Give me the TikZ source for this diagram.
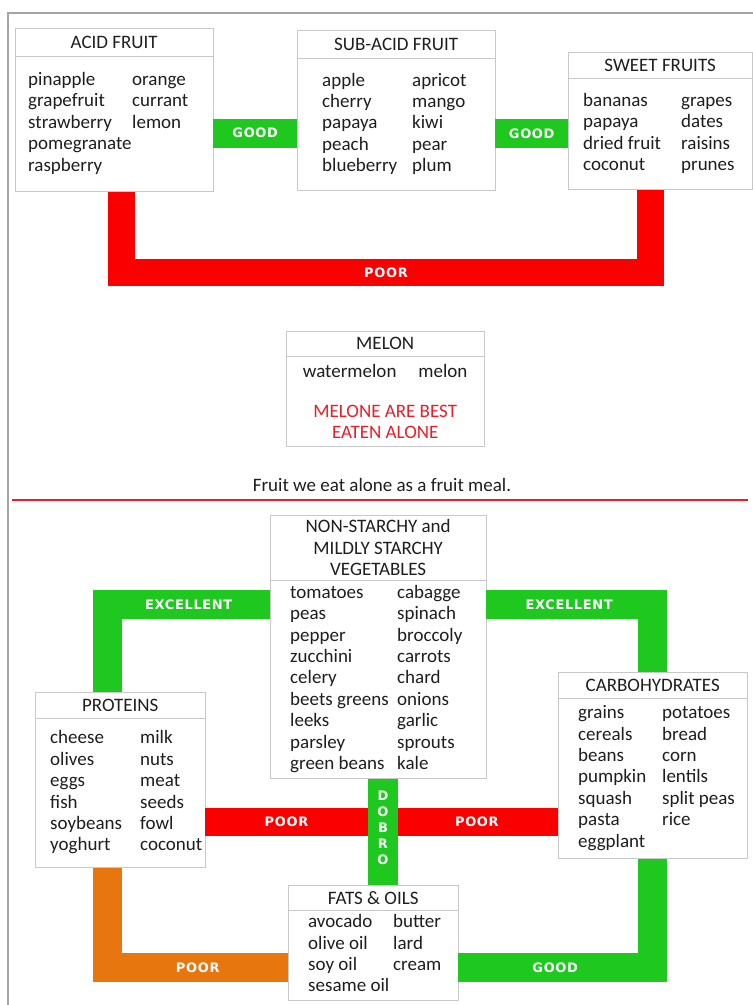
\documentclass[tikz,border=0pt]{standalone}
\usepackage{fontspec}
\setmainfont{Carlito}
\newfontfamily\labelfont[LetterSpace=5.0]{DejaVu Sans}
\usetikzlibrary{positioning}
\definecolor{boxgray}{RGB}{200,200,200}
\definecolor{framegray}{RGB}{165,165,165}
\definecolor{goodgreen}{RGB}{30,200,30}
\definecolor{poorred}{RGB}{250,0,0}
\definecolor{poororange}{RGB}{232,118,14}
\definecolor{melonred}{RGB}{232,30,40}
\definecolor{inkgray}{RGB}{30,30,30}
\newcommand{\itemfont}{\fontsize{19}{21.4}\selectfont}
\newcommand{\foods}[2]{\begin{tabular}{@{}p{#1}@{}l@{}}#2\end{tabular}}
\tikzset{
head/.style={draw=boxgray, fill=white, font=\itemfont, text=inkgray, align=center, inner sep=0pt, anchor=north west}, % title row of a box
body/.style={draw=boxgray, fill=white, inner sep=0pt}, % frame under the title
list/.style={font=\itemfont, text=inkgray, inner sep=0pt}, % the two columns of foods
band/.style={line width=29pt}, % thick coloured connector
tag/.style={text=white, font=\labelfont\bfseries\fontsize{13}{16}\selectfont}, % word on a connector
}

\begin{document}
\begin{tikzpicture}[x=1pt, y=-1pt]
\useasboundingbox (0,0) rectangle (753,1005);
\draw[framegray, line width=1.5pt] (8,1005) -- (8,13) -- (753,13);

% fruit
\node[head, minimum width=198pt, minimum height=28pt] (acidhd) at (15,28) {ACID FRUIT};
\node[body, minimum width=198pt, minimum height=135pt, below=0pt of acidhd] (acid) {};
\node[list, right=13pt of acid.west] (acidlist) {\foods{104pt}{pinapple & orange\\ grapefruit & currant\\ strawberry & lemon\\ pomegranate & \\ raspberry & }};

\node[head, minimum width=198pt, minimum height=28pt] (subhd) at (297,30) {SUB-ACID FRUIT};
\node[body, minimum width=198pt, minimum height=132pt, below=0pt of subhd] (sub) {};
\node[list, right=25pt of sub.west] (sublist) {\foods{90pt}{apple & apricot\\ cherry & mango\\ papaya & kiwi\\ peach & pear\\ blueberry & plum}};

\node[head, minimum width=184pt, minimum height=26pt] (sweethd) at (568,52) {SWEET FRUITS};
\node[body, minimum width=184pt, minimum height=111pt, below=0pt of sweethd] (sweet) {};
\node[list, right=15pt of sweet.west] (sweetlist) {\foods{98pt}{bananas & grapes\\ papaya & dates\\ dried fruit & raisins\\ coconut & prunes}};

\draw[band, goodgreen] (acid.east |- 0,133) -- node[tag]{GOOD} (sub.west |- 0,133);
\draw[band, goodgreen] (sub.east |- 0,133.5) -- node[tag]{GOOD} (sweet.west |- 0,133.5);
\draw[band, poorred, line width=27pt] (acid.south -| 121.5,0) -- (121.5,272.5) -- node[tag]{POOR} (650.5,272.5) -- (sweet.south -| 650.5,0);

\node[head, minimum width=198pt, minimum height=25pt] (melonhd) at (286,331) {MELON};
\node[body, minimum width=198pt, minimum height=90pt, below=0pt of melonhd, font=\itemfont, text=inkgray, align=center] (melon) {watermelon\hspace{22pt}melon\\[18pt] \textcolor{melonred}{MELONE ARE BEST}\\ \textcolor{melonred}{EATEN ALONE}};

\node[font=\itemfont, text=inkgray] (caption) at (382,485) {Fruit we eat alone as a fruit meal.};
\draw[melonred, line width=1.8pt] (12,500) -- (748,500);

% food combining
\node[head, minimum width=216pt, minimum height=65pt] (nshd) at (270,515) {NON-STARCHY and\\ MILDLY STARCHY\\ VEGETABLES};
\node[body, minimum width=216pt, minimum height=198pt, below=0pt of nshd] (ns) {};
\node[list, right=20pt of ns.west] (nslist) {\foods{107pt}{tomatoes & cabagge\\ peas & spinach\\ pepper & broccoly\\ zucchini & carrots\\ celery & chard\\ beets greens & onions\\ leeks & garlic\\ parsley & sprouts\\ green beans & kale}};

\node[head, minimum width=170pt, minimum height=26pt] (prothd) at (35,692) {PROTEINS};
\node[body, minimum width=170pt, minimum height=149pt, below=0pt of prothd] (prot) {};
\node[list, right=15pt of prot.west] (protlist) {\foods{90pt}{cheese & milk\\ olives & nuts\\ eggs & meat\\ fish & seeds\\ soybeans & fowl\\ yoghurt & coconut}};

\node[head, minimum width=189pt, minimum height=26pt] (carbhd) at (558,672) {CARBOHYDRATES};
\node[body, minimum width=189pt, minimum height=160pt, below=0pt of carbhd] (carb) {};
\node[list, right=20pt of carb.west] (carblist) {\foods{84pt}{grains & potatoes\\ cereals & bread\\ beans & corn\\ pumpkin & lentils\\ squash & split peas\\ pasta & rice\\ eggplant & }};

\node[head, minimum width=170pt, minimum height=25pt] (fatshd) at (288,885) {FATS \& OILS};
\node[body, minimum width=170pt, minimum height=90pt, below=0pt of fatshd] (fats) {};
\node[list, right=20pt of fats.west] (fatslist) {\foods{85pt}{avocado & butter\\ olive oil & lard\\ soy oil & cream\\ sesame oil & }};

\draw[band, goodgreen] (ns.west |- 0,604.5) -- node[tag]{EXCELLENT} (107.5,604.5) -- (prothd.north -| 107.5,0);
\draw[band, goodgreen] (ns.east |- 0,604.5) -- node[tag]{EXCELLENT} (652,604.5) -- (carbhd.north -| 652,0);
\draw[band, poorred, line width=28pt] (prot.east |- 0,822) -- node[tag, pos=0.23]{POOR} node[tag, pos=0.77]{POOR} (carb.west |- 0,822);
\draw[band, goodgreen, line width=30pt] (ns.south -| 383,0) -- node[tag, pos=0.46, align=center]{D\\O\\B\\R\\O} (fatshd.north -| 383,0);
\draw[band, poororange] (prot.south -| 107.5,0) -- (107.5,967.5) -- node[tag]{POOR} (fats.west |- 0,967.5);
\draw[band, goodgreen] (fats.east |- 0,967.5) -- node[tag]{GOOD} (652,967.5) -- (carb.south -| 652,0);
\end{tikzpicture}
\end{document}
